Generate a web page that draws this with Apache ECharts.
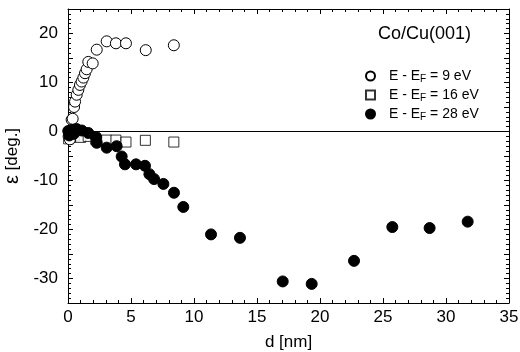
<!DOCTYPE html>
<html>
<head>
<meta charset="utf-8">
<script src="https://cdn.jsdelivr.net/npm/echarts@6/dist/echarts.min.js"></script>
<style>
  html, body { margin: 0; padding: 0; background: #fff; }
  #chart { width: 520px; height: 352px; }
</style>
</head>
<body>
<div id="chart"></div>
<script>
// d [nm], epsilon [deg.]
var open9eV = [
  [0.05, -1.0], [0.15, -1.6], [0.29, 2.4], [0.37, 2.6], [0.48, 5.0], [0.56, 6.1],
  [0.69, 7.5], [0.82, 8.5], [0.95, 9.5], [1.08, 10.2], [1.22, 11.0],
  [1.35, 11.9], [1.48, 12.7], [1.61, 14.2], [1.96, 13.9], [2.28, 16.7],
  [3.07, 18.4], [3.8, 18.0], [4.6, 18.0], [6.17, 16.6], [8.4, 17.6]
];
var square16eV = [
  [0.05, -1.5], [0.2, -1.2], [0.5, -0.9], [1.0, -1.2], [1.6, -1.0],
  [2.2, -1.6], [3.07, -1.75], [3.8, -1.75], [4.6, -2.15], [6.14, -1.8], [8.4, -2.15]
];
var filled28eV = [
  [0.02, 0.1], [0.1, -0.8], [0.2, -0.3], [0.3, 0.3], [0.45, -0.5], [0.69, 0.5],
  [1.1, 0.2], [1.61, -0.3], [2.22, -1.1], [2.28, -2.3], [3.07, -3.3], [3.86, -3.0],
  [4.26, -5.1], [4.52, -6.7], [5.4, -6.7], [6.11, -7.0], [6.46, -8.7], [6.83, -9.7],
  [7.57, -10.7], [8.41, -12.5], [9.15, -15.4], [11.35, -21.0], [13.65, -21.7],
  [17.04, -30.6], [19.34, -31.1], [22.7, -26.4], [25.74, -19.5], [28.7, -19.7],
  [31.72, -18.4]
];
var seriesNames = ['9 eV', '16 eV', '28 eV'];

var font = 'Liberation Sans, Arial, sans-serif';
var chart = echarts.init(document.getElementById('chart'));

var tickStyle = {
  axisLine: { show: true, onZero: false, lineStyle: { color: '#000', width: 1 } },
  axisTick: { show: true, inside: true, length: 5, lineStyle: { color: '#000' } },
  minorTick: { show: true, splitNumber: 5, length: 3, lineStyle: { color: '#000' } },
  splitLine: { show: false }
};

function legendText(name) {
  return '{p|}{a|E - E}{s|F}{a| = ' + name + '}';
}

chart.setOption({
  animation: false,
  title: {
    text: 'Co/Cu(001)',
    left: 373, top: 20,
    textStyle: { fontFamily: font, fontSize: 18, fontWeight: 'normal', color: '#000' }
  },
  legend: {
    orient: 'vertical',
    left: 360, top: 62,
    itemWidth: 9, itemHeight: 9, itemGap: 2,
    data: seriesNames,
    formatter: legendText,
    textStyle: {
      fontFamily: font, color: '#000',
      rich: {
        p: { width: 9 },
        a: { fontFamily: font, fontSize: 14, lineHeight: 16, color: '#000' },
        s: { fontFamily: font, fontSize: 10, lineHeight: 16, color: '#000', verticalAlign: 'bottom', padding: [7, 0, 0, 0] }
      }
    }
  },
  grid: { left: 68, right: 11, top: 9, bottom: 49, containLabel: false, outerBoundsMode: 'none' },
  xAxis: [
    Object.assign({
      type: 'value', min: 0, max: 35, interval: 5, position: 'bottom',
      name: 'd [nm]', nameLocation: 'middle', nameGap: 31,
      nameTextStyle: { fontFamily: font, fontSize: 17, color: '#000' },
      axisLabel: { fontFamily: font, fontSize: 17, color: '#000', margin: 6 }
    }, tickStyle),
    Object.assign({
      type: 'value', min: 0, max: 35, interval: 5, position: 'top',
      axisLabel: { show: false }
    }, tickStyle)
  ],
  yAxis: [
    Object.assign({
      type: 'value', min: -35, max: 25, interval: 5, position: 'left',
      name: '{e|ε} [deg.]', nameLocation: 'middle', nameGap: 43,
      nameTextStyle: {
        fontFamily: font, fontSize: 17, color: '#000',
        rich: { e: { fontFamily: font, fontSize: 20, color: '#000' } }
      },
      axisLabel: {
        fontFamily: font, fontSize: 17, color: '#000', margin: 10,
        formatter: function (v) { return v % 10 === 0 ? String(v) : ''; }
      }
    }, tickStyle),
    Object.assign({
      type: 'value', min: -35, max: 25, interval: 5, position: 'right',
      axisLabel: { show: false }
    }, tickStyle)
  ],
  series: [
    {
      name: seriesNames[1], type: 'scatter', data: square16eV,
      symbol: 'rect', symbolSize: 10,
      itemStyle: { color: '#fff', borderColor: '#000', borderWidth: 1 },
      markLine: {
        silent: true, symbol: 'none', label: { show: false },
        lineStyle: { color: '#000', width: 1, type: 'solid' },
        data: [{ yAxis: 0 }]
      }
    },
    {
      name: seriesNames[0], type: 'scatter', data: open9eV,
      symbol: 'circle', symbolSize: 11,
      itemStyle: { color: '#fff', borderColor: '#000', borderWidth: 1, opacity: 1 }
    },
    {
      name: seriesNames[2], type: 'scatter', data: filled28eV,
      symbol: 'circle', symbolSize: 11,
      itemStyle: { color: '#000', borderColor: '#000', borderWidth: 1, opacity: 1 }
    }
  ]
});
</script>
</body>
</html>
